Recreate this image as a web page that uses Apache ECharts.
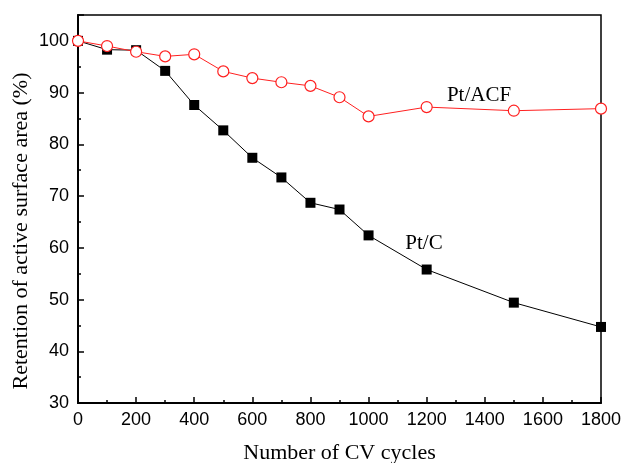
<!DOCTYPE html>
<html><head><meta charset="utf-8">
<script src="https://cdn.jsdelivr.net/npm/echarts@6/dist/echarts.min.js"></script>
<style>html,body{margin:0;padding:0;background:#fff}#c{width:622px;height:463px}</style>
</head><body><div id="c"></div>
<script>
const cycles = [0,100,200,300,400,500,600,700,800,900,1000,1200,1500,1800];
const ptC   = [100,98.3,98.2,94.2,87.6,82.7,77.4,73.6,68.7,67.4,62.4,55.8,49.4,44.7];
const ptACF = [100,99.0,97.9,97.0,97.4,94.1,92.8,92.0,91.3,89.1,85.4,87.2,86.5,86.9];
const xName = 'Number of CV cycles';
const yName = 'Retention of active surface area (%)';
const labelACF = 'Pt/ACF';
const labelC = 'Pt/C';

const chart = echarts.init(document.getElementById('c'));
const sans = 'Liberation Sans';
const serif = 'Liberation Serif';
chart.setOption({
  animation:false,
  grid:{left:78,right:21,top:15,bottom:60,show:true,borderColor:'#000',borderWidth:1.5,
    containLabel:false,outerBoundsMode:'none'},
  xAxis:{type:'value',min:0,max:1800,interval:200,
    name:xName,nameLocation:'middle',nameGap:39,
    nameTextStyle:{fontFamily:serif,fontSize:22,color:'#000'},
    axisLine:{lineStyle:{color:'#000',width:2}},
    axisTick:{inside:true,length:6,lineStyle:{color:'#000',width:1.5}},
    minorTick:{show:true,splitNumber:2,length:3,lineStyle:{color:'#000',width:1.5}},
    splitLine:{show:false},
    axisLabel:{fontFamily:sans,fontSize:18,color:'#000',margin:8,formatter:v=>String(v)}},
  yAxis:{type:'value',min:30,max:105,interval:10,
    axisLine:{lineStyle:{color:'#000',width:2}},
    axisTick:{inside:true,length:6,lineStyle:{color:'#000',width:1.5}},
    minorTick:{show:true,splitNumber:2,length:3,lineStyle:{color:'#000',width:1.5}},
    splitLine:{show:false},
    axisLabel:{fontFamily:sans,fontSize:18,color:'#000',margin:9,
      formatter:v=> (v%10===0? String(v):'')}},
  series:[
    {type:'line',data:cycles.map((c,i)=>[c,ptC[i]]),symbol:'rect',symbolSize:10,
      lineStyle:{color:'#000',width:1},itemStyle:{color:'#000'}},
    {type:'line',data:cycles.map((c,i)=>[c,ptACF[i]]),symbol:'circle',symbolSize:11,
      lineStyle:{color:'#ff2020',width:1},itemStyle:{color:'#fff',borderColor:'#ff2020',borderWidth:1.2}}
  ],
  graphic:[
    {type:'text',x:21,y:231,rotation:Math.PI/2,
      style:{text:yName,font:'22px "Liberation Serif"',fill:'#000',align:'center',verticalAlign:'middle'}},
    {type:'text',x:479,y:95,style:{text:labelACF,font:'21px "Liberation Serif"',fill:'#000',align:'center',verticalAlign:'middle'}},
    {type:'text',x:424,y:243,style:{text:labelC,font:'21px "Liberation Serif"',fill:'#000',align:'center',verticalAlign:'middle'}}
  ]
});
</script></body></html>
